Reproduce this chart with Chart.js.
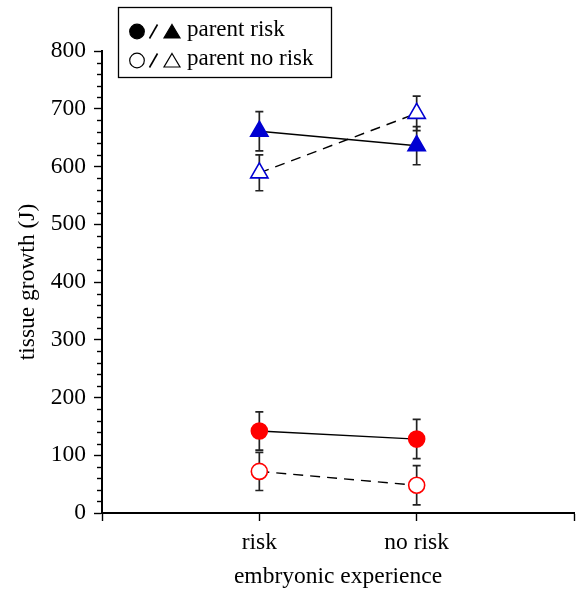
<!DOCTYPE html>
<html>
<head>
<meta charset="utf-8">
<script src="https://cdn.jsdelivr.net/npm/chart.js@4.4.0/dist/chart.umd.min.js"></script>
<style>
html,body{margin:0;padding:0;background:#fff;}
#wrap{position:relative;width:576px;height:589px;}
</style>
</head>
<body>
<div id="wrap"><canvas id="c" width="576" height="589"></canvas></div>
<script>
// ---- data ----
const categories = ['risk', 'no risk'];
const xPositions = [1, 2];
const yTickValues = [0, 100, 200, 300, 400, 500, 600, 700, 800];

// parent risk (filled markers)
const circleParentRisk = [142, 128];
const circleParentRiskErr = [33, 34];
const triangleParentRisk = [661, 636];
const triangleParentRiskErr = [34, 33];
// parent no risk (open markers)
const circleParentNoRisk = [72, 48];
const circleParentNoRiskErr = [33, 34];
const triangleParentNoRisk = [589, 692];
const triangleParentNoRiskErr = [31, 30];

const legendLabels = ['parent risk', 'parent no risk'];

const BLUE = 'rgb(0,0,210)';
const RED = 'rgb(255,0,0)';
const SERIF = '"Liberation Serif", "Times New Roman", serif';
const FONT_SIZE = 23.5;

function pts(vals) { return vals.map((v, i) => ({ x: xPositions[i], y: v })); }

const datasets = [
  { data: pts(triangleParentRisk), err: triangleParentRiskErr, pointStyle: 'triangle', pointRadius: 10,
    backgroundColor: BLUE, pointBorderColor: BLUE, borderColor: '#000', borderDash: [] },
  { data: pts(triangleParentNoRisk), err: triangleParentNoRiskErr, pointStyle: 'triangle', pointRadius: 10,
    backgroundColor: '#fff', pointBorderColor: BLUE, borderColor: '#000', borderDash: [10, 7] },
  { data: pts(circleParentRisk), err: circleParentRiskErr, pointStyle: 'circle', pointRadius: 8,
    backgroundColor: RED, pointBorderColor: RED, borderColor: '#000', borderDash: [] },
  { data: pts(circleParentNoRisk), err: circleParentNoRiskErr, pointStyle: 'circle', pointRadius: 8,
    backgroundColor: '#fff', pointBorderColor: RED, borderColor: '#000', borderDash: [10, 7] }
].map(d => Object.assign({
  type: 'line', showLine: true, borderWidth: 1.4, pointBorderWidth: 1.6,
  pointBackgroundColor: d.backgroundColor, pointHoverRadius: d.pointRadius, tension: 0
}, d));

const errorBars = {
  id: 'errorBars',
  beforeDatasetsDraw(chart) {
    const ctx = chart.ctx, xs = chart.scales.x, ys = chart.scales.y;
    ctx.save();
    ctx.strokeStyle = '#222';
    ctx.lineWidth = 1.7;
    chart.data.datasets.forEach(ds => {
      ds.data.forEach((p, i) => {
        const x = xs.getPixelForValue(p.x);
        const y1 = ys.getPixelForValue(p.y + ds.err[i]);
        const y2 = ys.getPixelForValue(p.y - ds.err[i]);
        ctx.beginPath();
        ctx.moveTo(x, y1); ctx.lineTo(x, y2);
        ctx.moveTo(x - 4, y1); ctx.lineTo(x + 4, y1);
        ctx.moveTo(x - 4, y2); ctx.lineTo(x + 4, y2);
        ctx.stroke();
      });
    });
    ctx.restore();
  }
};

const minorTicks = {
  id: 'minorTicks',
  afterDraw(chart) {
    const ctx = chart.ctx, ys = chart.scales.y;
    const x0 = ys.right;
    ctx.save();
    ctx.strokeStyle = '#000';
    ctx.lineWidth = 1.4;
    for (let v = 0; v <= 800; v += 20) {
      if (v % 100 !== 0) {
        const y = Math.round(ys.getPixelForValue(v)) + 0.5;
        ctx.beginPath();
        ctx.moveTo(x0 - 5, y); ctx.lineTo(x0, y);
        ctx.stroke();
      }
    }
    ctx.restore();
  }
};

const legendBox = {
  id: 'legendBox',
  afterDraw(chart) {
    const ctx = chart.ctx;
    ctx.save();
    ctx.strokeStyle = '#000';
    ctx.lineWidth = 1.3;
    ctx.strokeRect(118.5, 7.5, 213, 70);
    const rows = [31.5, 60.5];
    rows.forEach((cy, r) => {
      const filled = r === 0;
      ctx.strokeStyle = '#000';
      // circle
      ctx.beginPath();
      ctx.arc(137, cy, 7.3, 0, Math.PI * 2);
      ctx.fillStyle = filled ? '#000' : '#fff';
      ctx.fill();
      ctx.lineWidth = 1.2;
      ctx.stroke();
      // slash
      ctx.beginPath();
      ctx.lineWidth = 1.6;
      ctx.moveTo(149.5, cy + 7); ctx.lineTo(157.5, cy - 7);
      ctx.stroke();
      // triangle
      ctx.beginPath();
      ctx.moveTo(172, cy - 7); ctx.lineTo(180, cy + 6.5); ctx.lineTo(164, cy + 6.5); ctx.closePath();
      ctx.lineWidth = 1.2;
      if (filled) { ctx.fillStyle = '#000'; ctx.fill(); }
      ctx.stroke();
      ctx.fillStyle = '#000';
      ctx.font = '23px ' + SERIF;
      ctx.textBaseline = 'alphabetic';
      ctx.textAlign = 'left';
      ctx.fillText(legendLabels[r], 187, cy + 4.5);
    });
    ctx.restore();
  }
};

new Chart(document.getElementById('c'), {
  type: 'line',
  data: { datasets },
  options: {
    responsive: false,
    animation: false,
    layout: { autoPadding: false, padding: { top: 51, right: 2, left: 10, bottom: 0 } },
    plugins: { legend: { display: false }, tooltip: { enabled: false } },
    scales: {
      x: {
        type: 'linear', min: 0, max: 3,
        afterBuildTicks(s) { s.ticks = [0, 1, 2, 3].map(v => ({ value: v })); },
        afterFit(s) { s.height = 76; s.paddingLeft = 0; s.paddingRight = 0; },
        border: { color: '#000', width: 2 },
        grid: { drawOnChartArea: false, tickLength: 8, tickColor: '#000', tickWidth: 1.4 },
        ticks: {
          autoSkip: false, padding: 8, color: '#000', font: { family: SERIF, size: FONT_SIZE }, maxRotation: 0,
          callback: v => (v >= 1 && v <= 2 && Number.isInteger(v)) ? categories[v - 1] : ''
        },
        title: { display: true, text: 'embryonic experience', color: '#000',
          font: { family: SERIF, size: FONT_SIZE }, padding: { top: 0, bottom: -2 } }
      },
      y: {
        min: 0, max: 800,
        afterBuildTicks(s) { s.ticks = yTickValues.map(v => ({ value: v })); },
        afterFit(s) { s.width = 92; s.paddingTop = 0; s.paddingBottom = 0; },
        border: { color: '#000', width: 2 },
        grid: { drawOnChartArea: false, tickLength: 8, tickWidth: 1.4, tickColor: '#000' },
        ticks: {
          autoSkip: false, padding: 8, color: '#000', font: { family: SERIF, size: FONT_SIZE },
          callback: v => String(v)
        },
        title: { display: true, text: 'tissue growth (J)', color: '#000',
          font: { family: SERIF, size: FONT_SIZE }, padding: { top: 4, bottom: 0 } }
      }
    }
  },
  plugins: [errorBars, minorTicks, legendBox]
});
</script>
</body>
</html>
